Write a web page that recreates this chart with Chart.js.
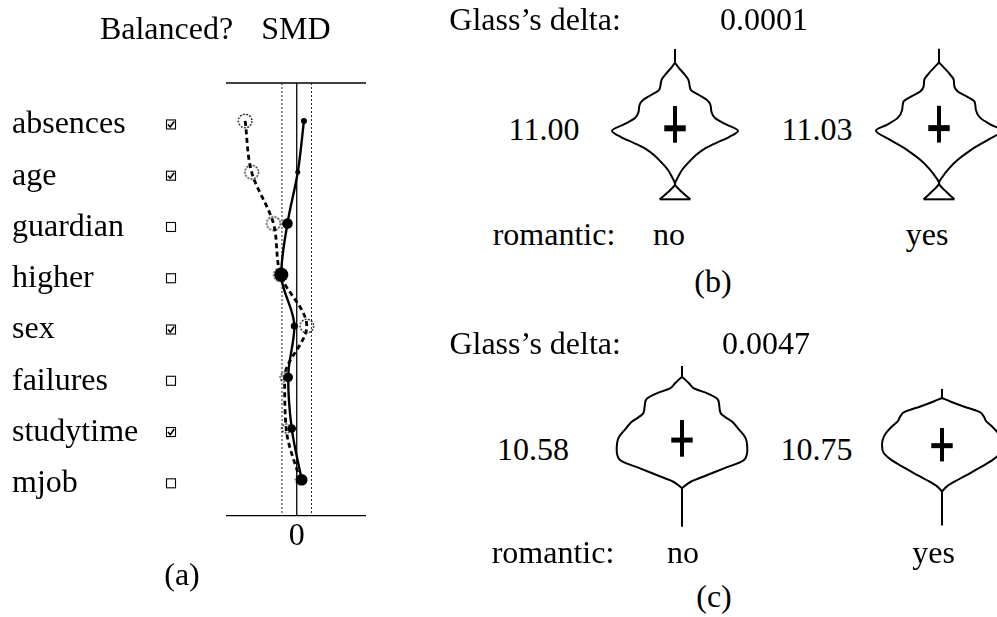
<!DOCTYPE html>
<html>
<head>
<meta charset="utf-8">
<title>Covariate balance and grade distributions</title>
<script src="https://cdn.jsdelivr.net/npm/chart.js@4.4.0/dist/chart.umd.min.js"></script>
<style>
  html, body { margin: 0; padding: 0; background: #fff; }
  #page { position: relative; width: 997px; height: 617px; overflow: hidden; background: #fff;
          font-family: "Liberation Serif", "DejaVu Serif", serif; color: #000; }
  #page canvas { position: absolute; }
  .t { position: absolute; font-size: 32px; line-height: 32px; white-space: nowrap; }
</style>
</head>
<body>
<div id="page"></div>
<script>
// ---------- (a) standardized mean differences per covariate ----------
const covariates       = ['absences', 'age', 'guardian', 'higher', 'sex', 'failures', 'studytime', 'mjob'];
const balanced         = [true, true, false, false, true, false, true, false];
const smdMatched       = [0.049, 0.007, -0.063, -0.105, -0.016, -0.058, -0.034, 0.034];
const smdMatchedSize   = [3, 2.5, 5.3, 7, 3.6, 4.8, 4.3, 5.8];
const smdUnmatched     = [-0.350, -0.306, -0.158, -0.110, 0.068, -0.082, -0.072, 0.022];
const smdUnmatchedSize = [6.8, 6.8, 6.8, 6.8, 6.8, 4.5, 4.5, 4.5];
const smdThreshold     = 0.1;
const smdTicks         = [0];

// ---------- (b), (c) final grade by romantic status ----------
const groups = ['no', 'yes'];
const groupVariable = 'romantic:';

// (b)
const bGlassDelta = 0.0001;
const bMeans      = [11.00, 11.03];
const bLow        = [8.77, 8.80];
const bHigh       = [14.46, 14.49];
const bStemTop    = [23.29, 23.32];
const bNoGrade    = [21.16, 20.34, 19.26, 18.48, 17.71, 16.93, 16.16, 15.38, 14.61, 13.53, 12.60, 11.67,
                     10.63, 9.65, 8.72, 7.79, 6.71, 5.62, 4.54, 3.45, 2.37, 1.44, 0];
const bNoDensity  = [0, 0.063, 0.159, 0.214, 0.230, 0.254, 0.381, 0.508, 0.563, 0.579, 0.635, 0.794,
                     1.0, 0.857, 0.651, 0.460, 0.317, 0.206, 0.111, 0.048, 0, 0.075, 0.243];
const bYesGrade   = [21.19, 20.33, 19.29, 18.51, 17.47, 16.70, 15.83, 15.15, 13.86, 12.58, 11.54,
                     10.66, 9.22, 7.67, 6.12, 4.83, 3.53, 2.51, 1.21, 0];
const bYesDensity = [0, 0.085, 0.180, 0.234, 0.244, 0.298, 0.458, 0.563, 0.585, 0.659, 0.829,
                     1.0, 0.777, 0.510, 0.298, 0.164, 0.059, 0, 0.112, 0.244];

// (c)
const cGlassDelta = 0.0047;
const cMeans      = [10.58, 10.75];
const cLow        = [8.55, 8.83];
const cHigh       = [13.03, 12.91];
const cStemTop    = [19.62, 17.67];
const cStemBottom = [0, 1.01];
const cNoGrade    = [18.32, 17.51, 16.90, 16.29, 15.68, 15.07, 13.85, 12.82, 12.01, 10.79, 9.37, 8.14,
                     7.13, 6.31, 5.49, 4.69];
const cNoDensity  = [0, 0.111, 0.190, 0.402, 0.551, 0.587, 0.614, 0.798, 0.889, 1.011, 1.037, 0.984,
                     0.667, 0.402, 0.138, 0];
const cYesGrade   = [16.57, 16.15, 15.54, 15.14, 14.81, 14.32, 13.71, 13.10, 12.30, 11.48, 10.74, 9.85,
                     9.04, 8.22, 7.41, 6.59, 5.78, 5.16];
const cYesDensity = [0, 0.132, 0.344, 0.503, 0.608, 0.662, 0.703, 0.794, 0.889, 0.941, 0.952, 0.925,
                     0.810, 0.635, 0.449, 0.254, 0.079, 0];

// ---------- shared helpers ----------
const FONT = '"Liberation Serif", "DejaVu Serif", serif';
const page = document.getElementById('page');

function addText(str, x, baseline, align) {
  const d = document.createElement('div');
  d.className = 't';
  d.textContent = str;
  d.style.top = (baseline - 26.8) + 'px';
  d.style.left = x + 'px';
  if (align === 'center') d.style.transform = 'translateX(-50%)';
  page.appendChild(d);
}

function addCanvas(left, top, w, h) {
  const c = document.createElement('canvas');
  c.width = w; c.height = h;
  c.style.left = left + 'px'; c.style.top = top + 'px';
  c.style.width = w + 'px'; c.style.height = h + 'px';
  page.appendChild(c);
  return c;
}

// ---------- (a) balance plot ----------
// dotted rings used as markers of the unmatched series
const ringStyles = smdUnmatchedSize.map(r => {
  const s = Math.ceil(2 * r + 4);
  const c = document.createElement('canvas');
  c.width = s; c.height = s;
  const g = c.getContext('2d');
  g.setLineDash([1.8, 1.5]);
  g.lineWidth = 1.3;
  g.strokeStyle = '#000';
  g.beginPath(); g.arc(s / 2, s / 2, r, 0, Math.PI * 2); g.stroke();
  return c;
});

const balanceFrame = {
  id: 'balanceFrame',
  beforeDatasetsDraw(chart) {
    const { ctx, chartArea: a, scales: { x } } = chart;
    ctx.save();
    ctx.strokeStyle = '#000';
    ctx.lineWidth = 1.3;
    [a.top, a.bottom].forEach(yy => {
      ctx.beginPath(); ctx.moveTo(a.left, yy); ctx.lineTo(a.right, yy); ctx.stroke();
    });
    const x0 = x.getPixelForValue(0);
    ctx.beginPath(); ctx.moveTo(x0, a.top); ctx.lineTo(x0, a.bottom); ctx.stroke();
    ctx.setLineDash([2, 2]);
    ctx.lineWidth = 1;
    ctx.strokeStyle = '#222';
    [-smdThreshold, smdThreshold].forEach(v => {
      const px = x.getPixelForValue(v);
      ctx.beginPath(); ctx.moveTo(px, a.top); ctx.lineTo(px, a.bottom); ctx.stroke();
    });
    ctx.restore();
  },
  afterDraw(chart) {
    // "Balanced?" check boxes
    const { ctx, chartArea: a, scales: { y } } = chart;
    const bx = a.left - 55;
    ctx.save();
    ctx.strokeStyle = '#000';
    covariates.forEach((_, i) => {
      const cy = y.getPixelForValue(i) + 3.5;
      ctx.lineWidth = 1.1;
      ctx.strokeRect(bx - 4.5, cy - 4.5, 9, 9);
      if (balanced[i]) {
        ctx.lineWidth = 1.6;
        ctx.beginPath();
        ctx.moveTo(bx - 3, cy);
        ctx.lineTo(bx - 0.8, cy + 2.6);
        ctx.lineTo(bx + 3.2, cy - 3);
        ctx.stroke();
      }
    });
    ctx.restore();
  }
};

const balanceChart = new Chart(addCanvas(0, 0, 380, 560), {
  type: 'line',
  data: {
    datasets: [
      {
        label: 'matched',
        data: covariates.map((_, i) => ({ x: smdMatched[i], y: i })),
        borderColor: '#000', borderWidth: 2.4,
        cubicInterpolationMode: 'monotone',
        pointRadius: smdMatchedSize, pointBackgroundColor: '#000', pointBorderWidth: 0,
        fill: false
      },
      {
        label: 'unmatched',
        data: covariates.map((_, i) => ({ x: smdUnmatched[i], y: i })),
        borderColor: '#000', borderWidth: 2.8, borderDash: [5, 3.5],
        cubicInterpolationMode: 'monotone',
        pointStyle: ctx => ringStyles[ctx.dataIndex] || 'circle',
        pointRadius: smdUnmatchedSize, pointBorderWidth: 0,
        fill: false
      }
    ]
  },
  options: {
    responsive: false, animation: false, events: [],
    indexAxis: 'y',
    layout: { padding: { left: 12, top: 83, right: 14, bottom: 0 } },
    plugins: { legend: { display: false }, tooltip: { enabled: false } },
    scales: {
      x: {
        type: 'linear', position: 'bottom', min: -0.48, max: 0.47,
        grid: { display: false, drawTicks: false }, border: { display: false },
        afterBuildTicks: s => { s.ticks = smdTicks.map(v => ({ value: v })); },
        afterFit: s => { s.height = 44.3; },
        ticks: { font: { family: FONT, size: 32 }, color: '#000', padding: 2, callback: v => String(v) }
      },
      y: {
        type: 'linear', position: 'left', reverse: true, min: -0.74, max: 7.7,
        grid: { display: false, drawTicks: false }, border: { display: false },
        afterBuildTicks: s => { s.ticks = covariates.map((_, i) => ({ value: i })); },
        afterFit: s => { s.width = 214; },
        ticks: { font: { family: FONT, size: 32 }, color: '#000', crossAlign: 'far', autoSkip: false,
                 padding: 0, labelOffset: 4, callback: v => covariates[v] }
      }
    }
  },
  plugins: [balanceFrame]
});

// ---------- (b), (c) violins ----------
const HW_PX = 63;          // pixels per unit of density half-width
const CROSS_HALF = 0.17;   // half length of the mean bar, density units

function violin(o) {
  const yMax = o.yMin + o.height / o.pxPerUnit;
  const left = Math.round(o.centerX - o.width / 2);
  const top = Math.round(o.zeroY - yMax * o.pxPerUnit);
  const xr = o.width / 2 / HW_PX;
  const last = o.grades.length - 1;
  const line = (data, extra) => Object.assign({
    data, borderColor: '#000', borderWidth: 2, pointRadius: 0, fill: false, tension: 0
  }, extra || {});
  const datasets = [
    line(o.grades.map((g, i) => ({ x: o.density[i], y: g })), { cubicInterpolationMode: 'monotone' }),
    line(o.grades.map((g, i) => ({ x: -o.density[i], y: g })), { cubicInterpolationMode: 'monotone' }),
    line([{ x: 0, y: o.stemTop }, { x: 0, y: o.grades[0] }]),
    o.density[last] > 0
      ? line([{ x: -o.density[last], y: o.grades[last] }, { x: o.density[last], y: o.grades[last] }])
      : line([{ x: 0, y: o.grades[last] }, { x: 0, y: o.stemBottom }]),
    line([{ x: 0, y: o.low }, { x: 0, y: o.high }], { borderWidth: 4 }),
    line([{ x: -CROSS_HALF, y: o.mean }, { x: CROSS_HALF, y: o.mean }], { borderWidth: o.barWidth })
  ];
  return new Chart(addCanvas(left, top, o.width, o.height), {
    type: 'line',
    data: { datasets },
    options: {
      responsive: false, animation: false, events: [],
      indexAxis: 'y',
      layout: { padding: 0 },
      plugins: { legend: { display: false }, tooltip: { enabled: false } },
      scales: {
        x: { type: 'linear', min: -xr, max: xr, display: false },
        y: { type: 'linear', min: o.yMin, max: yMax, display: false }
      }
    }
  });
}

const panelB = { pxPerUnit: 6.4545, yMin: -1.5, width: 152, height: 168, barWidth: 6 };
const panelC = { pxPerUnit: 8.19, yMin: -1.5, width: 152, height: 180, barWidth: 5 };

violin(Object.assign({}, panelB, { centerX: 675.3, zeroY: 199.3, grades: bNoGrade, density: bNoDensity,
  stemTop: bStemTop[0], mean: bMeans[0], low: bLow[0], high: bHigh[0] }));
violin(Object.assign({}, panelB, { centerX: 938.7, zeroY: 199.5, grades: bYesGrade, density: bYesDensity,
  stemTop: bStemTop[1], mean: bMeans[1], low: bLow[1], high: bHigh[1] }));
violin(Object.assign({}, panelC, { centerX: 682, zeroY: 526.7, grades: cNoGrade, density: cNoDensity,
  stemTop: cStemTop[0], stemBottom: cStemBottom[0], mean: cMeans[0], low: cLow[0], high: cHigh[0] }));
violin(Object.assign({}, panelC, { centerX: 941.7, zeroY: 534, grades: cYesGrade, density: cYesDensity,
  stemTop: cStemTop[1], stemBottom: cStemBottom[1], mean: cMeans[1], low: cLow[1], high: cHigh[1] }));

// ---------- text ----------
const area = balanceChart.chartArea;
addText('Balanced?', 166.5, 38.3, 'center');
addText('SMD', (area.left + area.right) / 2, 38.3, 'center');
addText('(a)', 182, 585, 'center');

addText('Glass\u2019s delta:', 449.3, 29.3, 'left');
addText(bGlassDelta.toFixed(4), 764, 29.3, 'center');
addText(bMeans[0].toFixed(2), 544, 139.3, 'center');
addText(bMeans[1].toFixed(2), 817, 139.3, 'center');
addText(groupVariable, 554, 245, 'center');
addText(groups[0], 669, 245, 'center');
addText(groups[1], 927, 245, 'center');
addText('(b)', 713, 292, 'center');

addText('Glass\u2019s delta:', 449.4, 353.8, 'left');
addText(cGlassDelta.toFixed(4), 766, 353.8, 'center');
addText(cMeans[0].toFixed(2), 533, 459.5, 'center');
addText(cMeans[1].toFixed(2), 816.5, 459.5, 'center');
addText(groupVariable, 553, 562.5, 'center');
addText(groups[0], 683, 562.5, 'center');
addText(groups[1], 933.6, 562.5, 'center');
addText('(c)', 714, 607, 'center');
</script>
</body>
</html>
